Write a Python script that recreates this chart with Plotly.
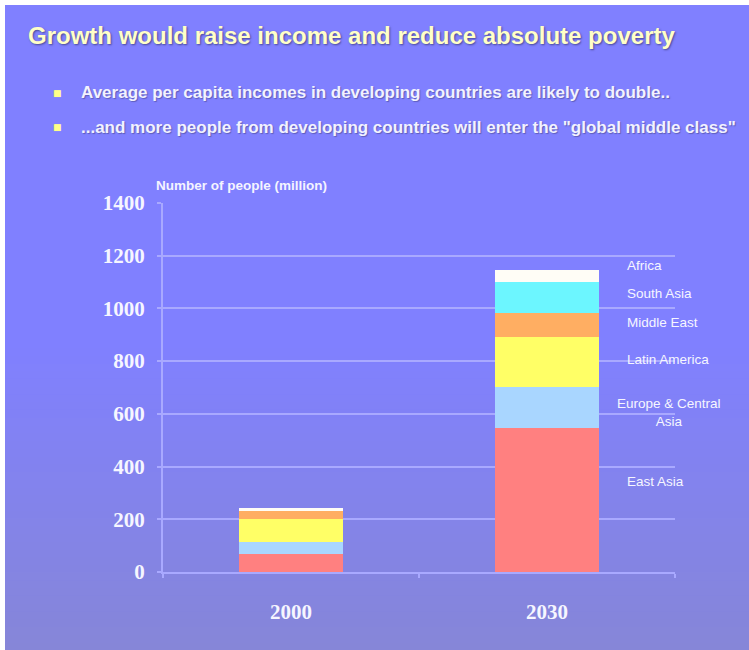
import plotly.graph_objects as go

# Number of people in the "global middle class" (million), by region
years = ["2000", "2030"]
east_asia = [67, 545]
europe_central_asia = [45, 158]
latin_america = [90, 187]
middle_east = [30, 93]
south_asia = [3, 118]
africa = [7, 44]

series_names = ["East Asia", "Europe & Central\nAsia", "Latin America",
                "Middle East", "South Asia", "Africa"]
series_values = [east_asia, europe_central_asia, latin_america,
                 middle_east, south_asia, africa]
series_colors = ["#FF8080", "#A9D6FF", "#FFFF66", "#FFAE62", "#6CF6FF", "#FFFDF6"]

y_tick_values = [0, 200, 400, 600, 800, 1000, 1200, 1400]

title_text = "Growth would raise income and reduce absolute poverty"
bullet_lines = [
    "Average per capita incomes in developing countries are likely to double..",
    "...and more people from developing countries will enter the \"global middle class\"",
]
y_axis_title = "Number of people (million)"

# Page geometry (pixels)
W, H = 749, 650
L, R, T, B = 163, 74, 203, 78
PW, PH = W - L - R, H - T - B


def px_x(px):
    return (px - L) / PW


def px_y(py):
    return (H - B - py) / PH


fig = go.Figure()
for name, vals, col in zip(series_names, series_values, series_colors):
    fig.add_trace(go.Bar(
        x=years, y=vals, name=name.replace("\n", " "),
        marker=dict(color=col, line=dict(width=0)),
        hoverinfo="name+y",
    ))

# Background: flat periwinkle fading slightly darker toward the bottom.
# Each band runs to the page bottom and is covered by the next one, so no seams show.
shapes = []
top_rgb = (128, 128, 255)
bot_rgb = (134, 134, 216)
fade_start = 340
shapes.append(dict(type="rect", xref="paper", yref="paper",
                   x0=px_x(5), x1=px_x(W + 2), y0=px_y(H + 2), y1=px_y(5),
                   fillcolor="rgb(%d,%d,%d)" % top_rgb, line=dict(width=0),
                   layer="below"))
n_bands = 40
band_h = (H - fade_start) / n_bands
for i in range(n_bands):
    t = (i + 0.5) / n_bands
    c = tuple(round(a + (b - a) * t) for a, b in zip(top_rgb, bot_rgb))
    y_top = fade_start + i * band_h
    shapes.append(dict(type="rect", xref="paper", yref="paper",
                       x0=px_x(5), x1=px_x(W + 2), y0=px_y(H + 2), y1=px_y(y_top),
                       fillcolor="rgb(%d,%d,%d)" % c, line=dict(width=0),
                       layer="below"))

annotations = []
# Title with soft shadow
annotations.append(dict(
    text="<b>%s</b>" % title_text, xref="paper", yref="paper",
    x=px_x(26), y=px_y(35), xanchor="left", yanchor="middle", showarrow=False,
    font=dict(family="Liberation Sans, Arial, sans-serif", size=24, color="#FFFFC8",
              shadow="1px 1px 2px rgba(60,60,120,0.8)"),
))
# Bullet points
for text, yy in zip(bullet_lines, [93, 127]):
    annotations.append(dict(
        text="■", xref="paper", yref="paper", x=px_x(57), y=px_y(yy),
        xanchor="center", yanchor="middle", showarrow=False,
        font=dict(family="DejaVu Sans", size=9, color="#FFFF88"),
    ))
    annotations.append(dict(
        text="<b>%s</b>" % text, xref="paper", yref="paper", x=px_x(79), y=px_y(yy),
        xanchor="left", yanchor="middle", showarrow=False,
        font=dict(family="Liberation Sans, Arial, sans-serif", size=17, color="#F2F2FF",
                  shadow="1px 1px 1px rgba(70,70,140,0.6)"),
    ))
# Y axis caption
annotations.append(dict(
    text="<b>%s</b>" % y_axis_title, xref="paper", yref="paper",
    x=px_x(154), y=px_y(185), xanchor="left", yanchor="middle", showarrow=False,
    font=dict(family="Liberation Sans, Arial, sans-serif", size=13.5, color="#F4F4FF"),
))
# Region labels beside the 2030 column
label_y = [342, 607, 808, 948, 1058, 1164]
for name, yv in zip(series_names, label_y):
    multi = "\n" in name
    annotations.append(dict(
        text=name.replace("\n", "<br>"), xref="paper", yref="y",
        x=px_x(669) if multi else px_x(625), y=yv,
        xanchor="center" if multi else "left", align="center",
        yanchor="middle", showarrow=False,
        font=dict(family="Liberation Sans, Arial, sans-serif", size=13.5, color="#F6F6FF"),
    ))

# White frame strip on the top and left edges
shapes.append(dict(type="rect", xref="paper", yref="paper",
                   x0=px_x(0), x1=px_x(W), y0=px_y(5), y1=px_y(0),
                   fillcolor="white", line=dict(width=0), layer="below"))
shapes.append(dict(type="rect", xref="paper", yref="paper",
                   x0=px_x(0), x1=px_x(5), y0=px_y(H), y1=px_y(0),
                   fillcolor="white", line=dict(width=0), layer="below"))

grid_col = "#A9A9FF"
fig.update_layout(
    width=W, height=H,
    margin=dict(l=L, r=R, t=T, b=B, pad=0),
    paper_bgcolor="white",
    plot_bgcolor="rgba(0,0,0,0)",
    barmode="stack",
    bargap=0.594,
    showlegend=False,
    shapes=shapes,
    annotations=annotations,
    xaxis=dict(
        type="category", range=[-0.5, 1.5],
        showgrid=False, showline=True, linecolor=grid_col, linewidth=2,
        ticks="outside", tickson="boundaries", ticklen=4, tickcolor=grid_col, tickwidth=2,
        ticklabelstandoff=20,
        tickfont=dict(family="Liberation Serif, Times New Roman, serif", size=21,
                      color="#F6F6FF", weight="bold"),
        fixedrange=True,
    ),
    yaxis=dict(
        range=[0, 1400], tickvals=y_tick_values,
        showgrid=True, gridcolor=grid_col, gridwidth=2,
        showline=True, linecolor=grid_col, linewidth=2,
        ticks="outside", ticklen=4, tickcolor=grid_col, tickwidth=2,
        ticklabelstandoff=8,
        tickfont=dict(family="Liberation Serif, Times New Roman, serif", size=21,
                      color="#F6F6FF", weight="bold"),
        zeroline=False, fixedrange=True,
    ),
)

fig.write_html("out.html")
